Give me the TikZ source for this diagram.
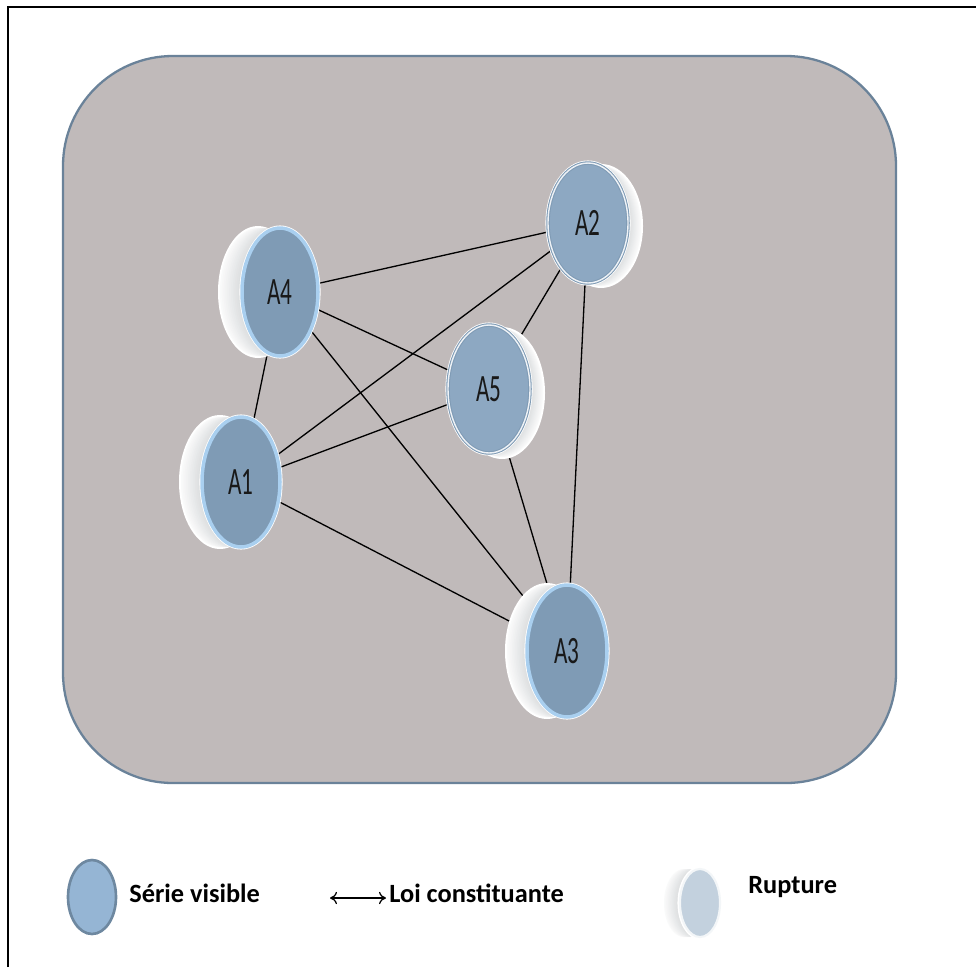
\documentclass[tikz,border=0pt]{standalone}
\usepackage{fontspec}
\setmainfont{Carlito}
\usepackage{tikz}
\usetikzlibrary{shapes.geometric, arrows.meta}

\definecolor{panelfill}{HTML}{C0BABA}
\definecolor{paneledge}{HTML}{6A8299}
\definecolor{facecol}{HTML}{7F9BB5}
\definecolor{faceedge}{HTML}{A9CFEF}
\definecolor{facecolR}{HTML}{8DA8C2}
\definecolor{rimgray}{HTML}{8E9499}
\definecolor{legfill}{HTML}{95B5D4}
\definecolor{legedge}{HTML}{6E88A0}
\definecolor{ruptface}{HTML}{C3D1DE}

\pgfdeclarelayer{bg}
\pgfdeclarelayer{edges}
\pgfsetlayers{bg,edges,main}

% rim of a disk: x, y, rx, ry, dx, dy
\newcommand{\diskrim}[6]{%
  \fill[white] (#1+#5,#2+#6) ellipse [x radius=#3+2, y radius=#4+2];
  \foreach \k in {0,...,12}{
    \pgfmathsetmacro\p{5+2.5*\k}
    \fill[rimgray!\p!white] (#1+#5-#5*\k/12,#2+#6-#6*\k/12) ellipse [x radius=#3, y radius=#4];
  }
  \draw[white, line width=1.2pt] (#1,#2) ellipse [x radius=#3+1.5, y radius=#4+1.5];
}

\tikzset{
  disk/.style={ellipse, fill=facecol, draw=faceedge, line width=2pt, inner sep=0pt,
    font=\fontsize{22pt}{22pt}\selectfont, text=black!90},
  diskR/.style={ellipse, fill=facecolR, draw=facecol, double=white!85!facecolR,
    double distance=0.8pt, line width=0.6pt, inner sep=0pt,
    font=\fontsize{22pt}{22pt}\selectfont, text=black!90},
  link/.style={draw=black, line width=0.75pt},
  legtext/.style={anchor=west, font=\fontsize{15pt}{15pt}\bfseries\selectfont, inner sep=0pt}
}

\newcommand{\lbl}[1]{\scalebox{0.6}[1]{#1}}

\begin{document}
\begin{tikzpicture}[x=0.02cm, y=-0.02cm]
  \useasboundingbox (0,0) rectangle (976,967);

  % frame and panel
  \draw[line width=1.2pt] (8,967) -- (8,7) -- (976,7);
  \begin{pgfonlayer}{bg}
    \draw[paneledge, fill=panelfill, line width=1.3pt, rounded corners=2.2cm] (63,56) rectangle (896,783);
  \end{pgfonlayer}

  % disks
  \diskrim{280}{292}{38}{64}{-22}{0}
  \node[disk, minimum width=1.52cm, minimum height=2.56cm] (A4) at (280,292) {\lbl{A4}};

  \diskrim{588}{223}{40}{60}{13}{3}
  \node[diskR, minimum width=1.6cm, minimum height=2.4cm] (A2) at (588,223) {\lbl{A2}};

  \diskrim{489}{389}{41}{64}{13}{4}
  \node[diskR, minimum width=1.64cm, minimum height=2.56cm] (A5) at (489,389) {\lbl{A5}};

  \diskrim{241}{482}{39}{65}{-21}{0}
  \node[disk, minimum width=1.56cm, minimum height=2.6cm] (A1) at (241,482) {\lbl{A1}};

  \diskrim{567}{651}{40}{66}{-20}{0}
  \node[disk, minimum width=1.6cm, minimum height=2.64cm] (A3) at (567,651) {\lbl{A3}};

  % links between the series
  \begin{pgfonlayer}{edges}
    \draw[link] (A4) -- (A2);
    \draw[link] (A4) -- (A5);
    \draw[link] (A4) -- (A1);
    \draw[link] (A4) -- (A3);
    \draw[link] (A2) -- (A1);
    \draw[link] (A2) -- (A5);
    \draw[link] (A2) -- (A3);
    \draw[link] (A5) -- (A1);
    \draw[link] (A5) -- (A3);
    \draw[link] (A1) -- (A3);
  \end{pgfonlayer}

  % legend
  \node[ellipse, fill=legfill, draw=legedge, line width=1.5pt, minimum width=0.96cm,
    minimum height=1.48cm] (serie) at (92,897) {};
  \node[legtext] (serietxt) at (129,893) {Série visible};

  \coordinate (loiL) at (330,898);
  \coordinate (loiR) at (386,898);
  \draw[{To[length=4pt, width=7pt]}-{To[length=4pt, width=7pt]}, line width=0.7pt] (loiL) -- (loiR);
  \node[legtext] (loitxt) at (389,893) {Loi constituante};

  \diskrim{700}{903}{20}{34}{-16}{0}
  \node[ellipse, fill=ruptface, draw=white!80!ruptface, line width=1.2pt,
    minimum width=0.8cm, minimum height=1.36cm] (rupt) at (700,903) {};
  \node[legtext] (rupttxt) at (748,887) {Rupture};
\end{tikzpicture}
\end{document}
